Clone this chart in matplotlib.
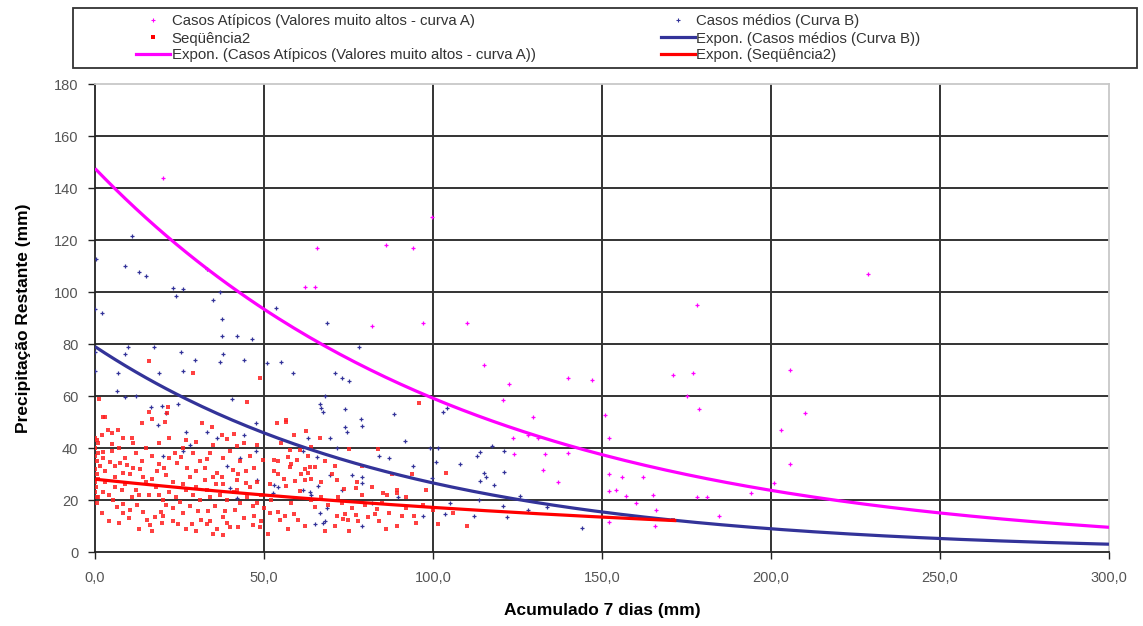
import numpy as np
import matplotlib
matplotlib.use("Agg")
import matplotlib.pyplot as plt
from matplotlib.lines import Line2D
from matplotlib.patches import Rectangle

plt.rcParams['font.family'] = ['Liberation Sans', 'DejaVu Sans']

# Casos atípicos (valores muito altos - curva A)
atip_x = [20, 65.7, 86, 94, 99.7, 62, 65, 178, 82, 97, 110, 115, 122.5, 140, 147,
          171, 177, 205.6, 120.7, 175, 178.7, 129.6, 151, 203, 152, 123.7, 128, 131,
          124, 133, 140, 205.6, 132.5, 137, 152, 156, 162, 152, 154, 157, 165, 178,
          181, 194, 201, 160, 166, 184.6, 165.7, 152, 228.7, 210]
atip_y = [144, 117, 118, 117, 129, 102, 102, 95, 87, 88, 88, 72, 64.6, 67, 66,
          68, 69, 70, 58.5, 60, 55, 52, 52.7, 47, 44, 44, 45, 44,
          37.7, 37.7, 38, 34, 31.5, 27, 30, 29, 29, 23.5, 24, 21.5, 22, 21,
          21, 22.6, 26.5, 19, 16, 14, 10, 11.5, 107, 53.5]

# Casos médios (curva B)
medio_x = [11, 0.3, 9, 13, 15, 23, 26, 24, 35, 37, 0, 2, 37.5, 53.5, 33,
           37.6, 42, 46.4, 68.6, 78, 9.8, 17.5, 9, 25.4, 0, 29.6, 38, 37, 44, 51,
           55, 58.6, 71, 73, 75, 6.8, 19, 26, 0, 6.5, 9, 12, 24.5, 16.6, 19.8,
           21, 18.6, 27, 33, 36, 40.5, 44, 66.6, 67, 67.5, 68, 74, 78.7, 74, 74.5,
           88.5, 69.5, 63, 71.6, 61.5, 91.7, 101.5, 84, 87, 94, 101, 69.5, 76, 79, 79,
           73, 61.5, 64, 53, 47.6, 28, 20, 26, 82, 66.6, 68, 79, 97, 68.6, 79,
           65.7, 66, 63.6, 54, 52.7, 89.6, 99.7, 65, 67.5, 47.6, 39, 43, 40, 42, 48,
           103, 104, 117.5, 114, 113, 121, 108, 115, 115.7, 114, 121, 118, 125.7, 105, 120.7,
           112, 122, 128, 103.5, 144, 99, 113.6, 133.7]
medio_y = [121.5, 112.7, 110, 107.7, 106, 101.5, 101, 98.5, 97, 100, 93.5, 92, 89.6, 94, 109,
           83, 83, 82, 88, 79, 79, 79, 76, 77, 77, 74, 76, 73, 74, 72.6,
           73, 69, 69, 67, 65.6, 69, 69, 69.6, 69.6, 62, 59.6, 60, 57, 55.6, 56,
           53.5, 49, 46, 46, 44, 59, 45, 57, 55.5, 54, 60, 55, 51, 48, 46,
           53, 44, 44, 40, 39, 42.7, 40, 37, 36, 33, 34.6, 29.6, 29.6, 29, 26.5,
           24, 24, 22, 25.8, 39, 41, 37, 39, 19, 15, 12, 10, 14, 17, 48.5,
           36.5, 25.4, 23, 25, 22.7, 21, 28.5, 10.8, 11, 49.6, 33, 36, 24.6, 20.8, 27.7,
           54, 55.4, 40.8, 38.6, 37, 38.8, 34, 30.4, 29, 27.4, 30.8, 25.8, 21.5, 19, 17.7,
           14, 13.5, 16, 14.6, 9.2, 40, 20, 17.3]

# Seqüência2
seq2_x = [1.3, 44.9, 3, 13.8, 16.8, 20.7, 21.3, 31.6, 34.5, 3.9, 4.9, 6.9, 8.4, 0.5, 4.9,
          11.3, 19, 30, 37.5, 41, 39, 42, 44, 2.5, 2.5, 4.4, 7.3, 9.4, 11.3, 13.3,
          8.4, 5.9, 10.4, 14.3, 18.2, 20.3, 21, 23.7, 25.3, 24.3, 27.1, 28, 30, 33.2, 32.5,
          35, 36.2, 37.6, 40.9, 42.3, 44.7, 47, 47.8, 44.8, 42, 32.5, 35.8, 0.5, 2.5, 5.4,
          8.4, 10.4, 6.4, 8.4, 12.3, 14.3, 15.3, 17.7, 19.6, 21.1, 23.1, 25, 26, 28, 19.7,
          16.2, 24.7, 28.6, 31.5, 33, 30.5, 33.4, 35.5, 38.4, 41.4, 37.9, 40, 35, 38, 42.4,
          46.7, 48.7, 46.7,
          0, 0, 0.5, 0, 0.5, 0, 0.3, 0, 1, 0.5, 1, 1.5, 0, 1,
          3, 6, 9, 12, 15, 18, 22, 26, 29, 33, 37, 41, 45, 49, 4,
          11, 16, 20, 24, 31, 39, 43,
          53.7, 56.4, 62.3, 66.6, 57.7, 60.6, 75, 83.8, 53, 54.2, 57, 59.7, 63.6, 65, 63,
          54, 62.1, 59.3, 56.4, 60.6, 51.8, 71.6, 73.8, 77.5, 77.3, 86.3, 89.3, 51.8, 54.2, 54.7,
          56.2, 60.2, 59, 65, 67, 71.5, 74, 74.9, 77.8, 80.8, 82.8, 83.3, 89.3, 90.8, 94.3,
          101.6, 51.3, 96,
          48.8, 16, 29, 56.6, 64, 49.8, 57.6, 62, 93.7, 85.3, 89.3, 77.3, 73.4, 2.5, 16,
          21.5, 103.8, 110, 171,
          52, 58, 64, 69, 72, 80, 85, 92, 97, 100, 106,
          2, 4, 7, 10, 13, 17, 20, 23, 27, 30, 34, 36, 39, 44, 47, 49,
          3, 6, 9, 12, 14, 17, 19, 22, 26, 29, 31, 34, 38, 40, 43, 46, 48, 11, 15, 22, 27, 35,
          1, 2, 5, 7, 8, 13, 17, 19, 23, 27, 30, 34, 38, 42, 46, 48, 50,
          53, 56, 58, 61, 64, 67, 70, 73, 76, 79, 82, 84, 87, 92, 95, 98, 57, 62, 68, 71, 75, 86,
          55, 59, 63, 68, 71, 79, 88]
seq2_y = [59, 57.8, 52, 49.7, 51, 50, 53.3, 49.7, 48, 47, 45.6, 47, 43.8, 43, 41.6,
          41.8, 41.8, 42.4, 45, 45.4, 43.3, 40.8, 41.8, 38.6, 36, 34.7, 34.3, 33.5, 32.5, 31.8,
          30.3, 29, 30, 29, 31.3, 32.5, 29.6, 38.2, 36.7, 34.2, 32.2, 29, 31, 35.6, 32.5,
          29, 30.4, 29, 31.5, 30, 31.3, 32.5, 27, 26.5, 27.7, 27.7, 26, 21.3, 23.2, 20,
          18.5, 16.2, 17.2, 15, 18.2, 15.2, 12.3, 13.6, 15.5, 18.1, 16.8, 19.4, 15, 17.6, 11,
          10.4, 10.8, 10.8, 12.5, 10.8, 15.6, 15.6, 17.6, 15.6, 16.2, 13.6, 9.7, 6.9, 6.5, 9.7,
          10.4, 9.7, 17.7,
          44, 40, 35, 32, 30, 27, 25, 23, 21, 19, 28, 33, 37, 42,
          27, 25, 26, 24, 27, 25, 23, 26, 22, 24, 22, 23, 21, 22, 22,
          21, 22, 20, 21, 20, 20, 19,
          49.7, 50, 46.7, 44, 39.2, 39.2, 39.5, 39.5, 35.4, 35, 36.5, 35.4, 32.6, 32.6, 30.5,
          29.9, 27.7, 27.4, 25.4, 23.6, 26.2, 27.7, 24.3, 26.9, 24.7, 21.9, 23.8, 15.1, 15.5, 12.5,
          13.8, 12.5, 14.8, 17.4, 21.2, 13.8, 14.8, 12.5, 12, 13.6, 14.8, 16.7, 10, 13.8, 13.8,
          10.8, 6.9, 57.4,
          67, 73.5, 69, 50.8, 40.5, 35.4, 32.6, 31.9, 30, 22.8, 22.6, 14.4, 12.8, 51.8, 53.7,
          55.6, 30.5, 10, 12.5,
          20, 19, 20, 18, 21, 18, 19, 17, 18, 16, 15,
          15, 12, 11, 13, 9, 8, 14, 12, 9, 8, 12, 9, 11, 13, 14, 12,
          31, 33, 36, 38, 35, 37, 34, 36, 40, 38, 35, 38, 36, 39, 35, 37, 41, 44, 40, 44, 43, 41,
          38, 45, 39, 40, 24, 22, 28, 22, 27, 24, 25, 21, 26, 24, 25, 19, 17,
          31, 28, 34, 30, 28, 27, 30, 19, 17, 22, 25, 12, 15, 21, 11, 24, 9, 10, 8, 10, 8, 9,
          42, 45, 37, 35, 33, 33, 30]

# exponential trend lines y = a * exp(-b * x), with their x ranges
trend_atip = (147.5, 0.00914, 0, 300)
trend_medio = (79.0, 0.0109, 0, 300)
trend_seq2 = (28.0, 0.0049, 0, 172)

magenta = '#FF00FF'
navy = '#333399'
red = '#FF0000'

fig = plt.figure(figsize=(11.43, 6.26), dpi=100)
ax = fig.add_axes([95 / 1143, 74 / 626, 1014 / 1143, 468 / 626])

for gx in [50, 100, 150, 200, 250]:
    ax.axvline(gx, color='#333333', lw=1.4, zorder=1)
for gy in range(20, 180, 20):
    ax.axhline(gy, color='#333333', lw=1.4, zorder=1)

ax.scatter(atip_x, atip_y, marker='+', s=10, lw=0.9, color=magenta, zorder=3)
ax.scatter(medio_x, medio_y, marker='+', s=10, lw=0.9, color=navy, zorder=3)
ax.scatter(seq2_x, seq2_y, marker='s', s=7, lw=0, color='#ff2020', alpha=0.85, zorder=3)


def trend(params):
    a, b, x0, x1 = params
    xs = np.linspace(x0, x1, 200)
    return xs, a * np.exp(-b * xs)


for params, col in [(trend_atip, magenta), (trend_medio, navy), (trend_seq2, red)]:
    tx, ty = trend(params)
    ax.plot(tx, ty, color=col, lw=2.3, zorder=4, solid_capstyle='butt')

ax.set_xlim(0, 300)
ax.set_ylim(0, 180)
ax.set_xticks(range(0, 301, 50))
ax.set_xticklabels([f'{v},0' for v in range(0, 301, 50)])
ax.set_yticks(range(0, 181, 20))
ax.tick_params(axis='both', colors='#222222', labelcolor='#555555', labelsize=10.5,
               length=5, width=1)
ax.tick_params(axis='x', pad=9)
ax.tick_params(axis='y', pad=7)
for side in ['left', 'bottom']:
    ax.spines[side].set_color('#222222')
    ax.spines[side].set_linewidth(1.3)
for side in ['top', 'right']:
    ax.spines[side].set_color('#c8c8c8')
    ax.spines[side].set_linewidth(1.3)

ax.set_xlabel('Acumulado 7 dias (mm)', fontsize=12.5, fontweight='bold', labelpad=13)
ax.set_ylabel('Precipitação Restante (mm)', fontsize=12.5, fontweight='bold', labelpad=16)

# legend frame and the two legend columns
fig.patches.append(Rectangle((73 / 1143, 1 - 68 / 626), 1064 / 1143, 60 / 626,
                             transform=fig.transFigure, fill=False,
                             edgecolor='#333333', lw=1.3))

lab_a = 'Casos Atípicos (Valores muito altos - curva A)'
lab_b = 'Casos médios (Curva B)'
col1 = [Line2D([], [], ls='none', marker='+', ms=3, mew=0.8, color=magenta),
        Line2D([], [], ls='none', marker='s', ms=2.5, mew=0, color=red),
        Line2D([], [], color=magenta, lw=2.3)]
lab1 = [lab_a, 'Seqüência2', 'Expon. (' + lab_a + ')']
col2 = [Line2D([], [], ls='none', marker='+', ms=3, mew=0.8, color=navy),
        Line2D([], [], color=navy, lw=2.3),
        Line2D([], [], color=red, lw=2.3)]
lab2 = [lab_b, 'Expon. (' + lab_b + ')', 'Expon. (Seqüência2)']

leg_kw = dict(frameon=False, fontsize=10.8, labelcolor='#333333', handlelength=2.3,
              handletextpad=0.1, labelspacing=0.2, borderpad=0, loc='upper left')
fig.legend(col1, lab1, bbox_to_anchor=(128 / 1143, 1 - 7 / 626), **leg_kw)
fig.legend(col2, lab2, bbox_to_anchor=(653 / 1143, 1 - 7 / 626), **leg_kw)

fig.savefig('out.png', dpi=100, facecolor='white')
